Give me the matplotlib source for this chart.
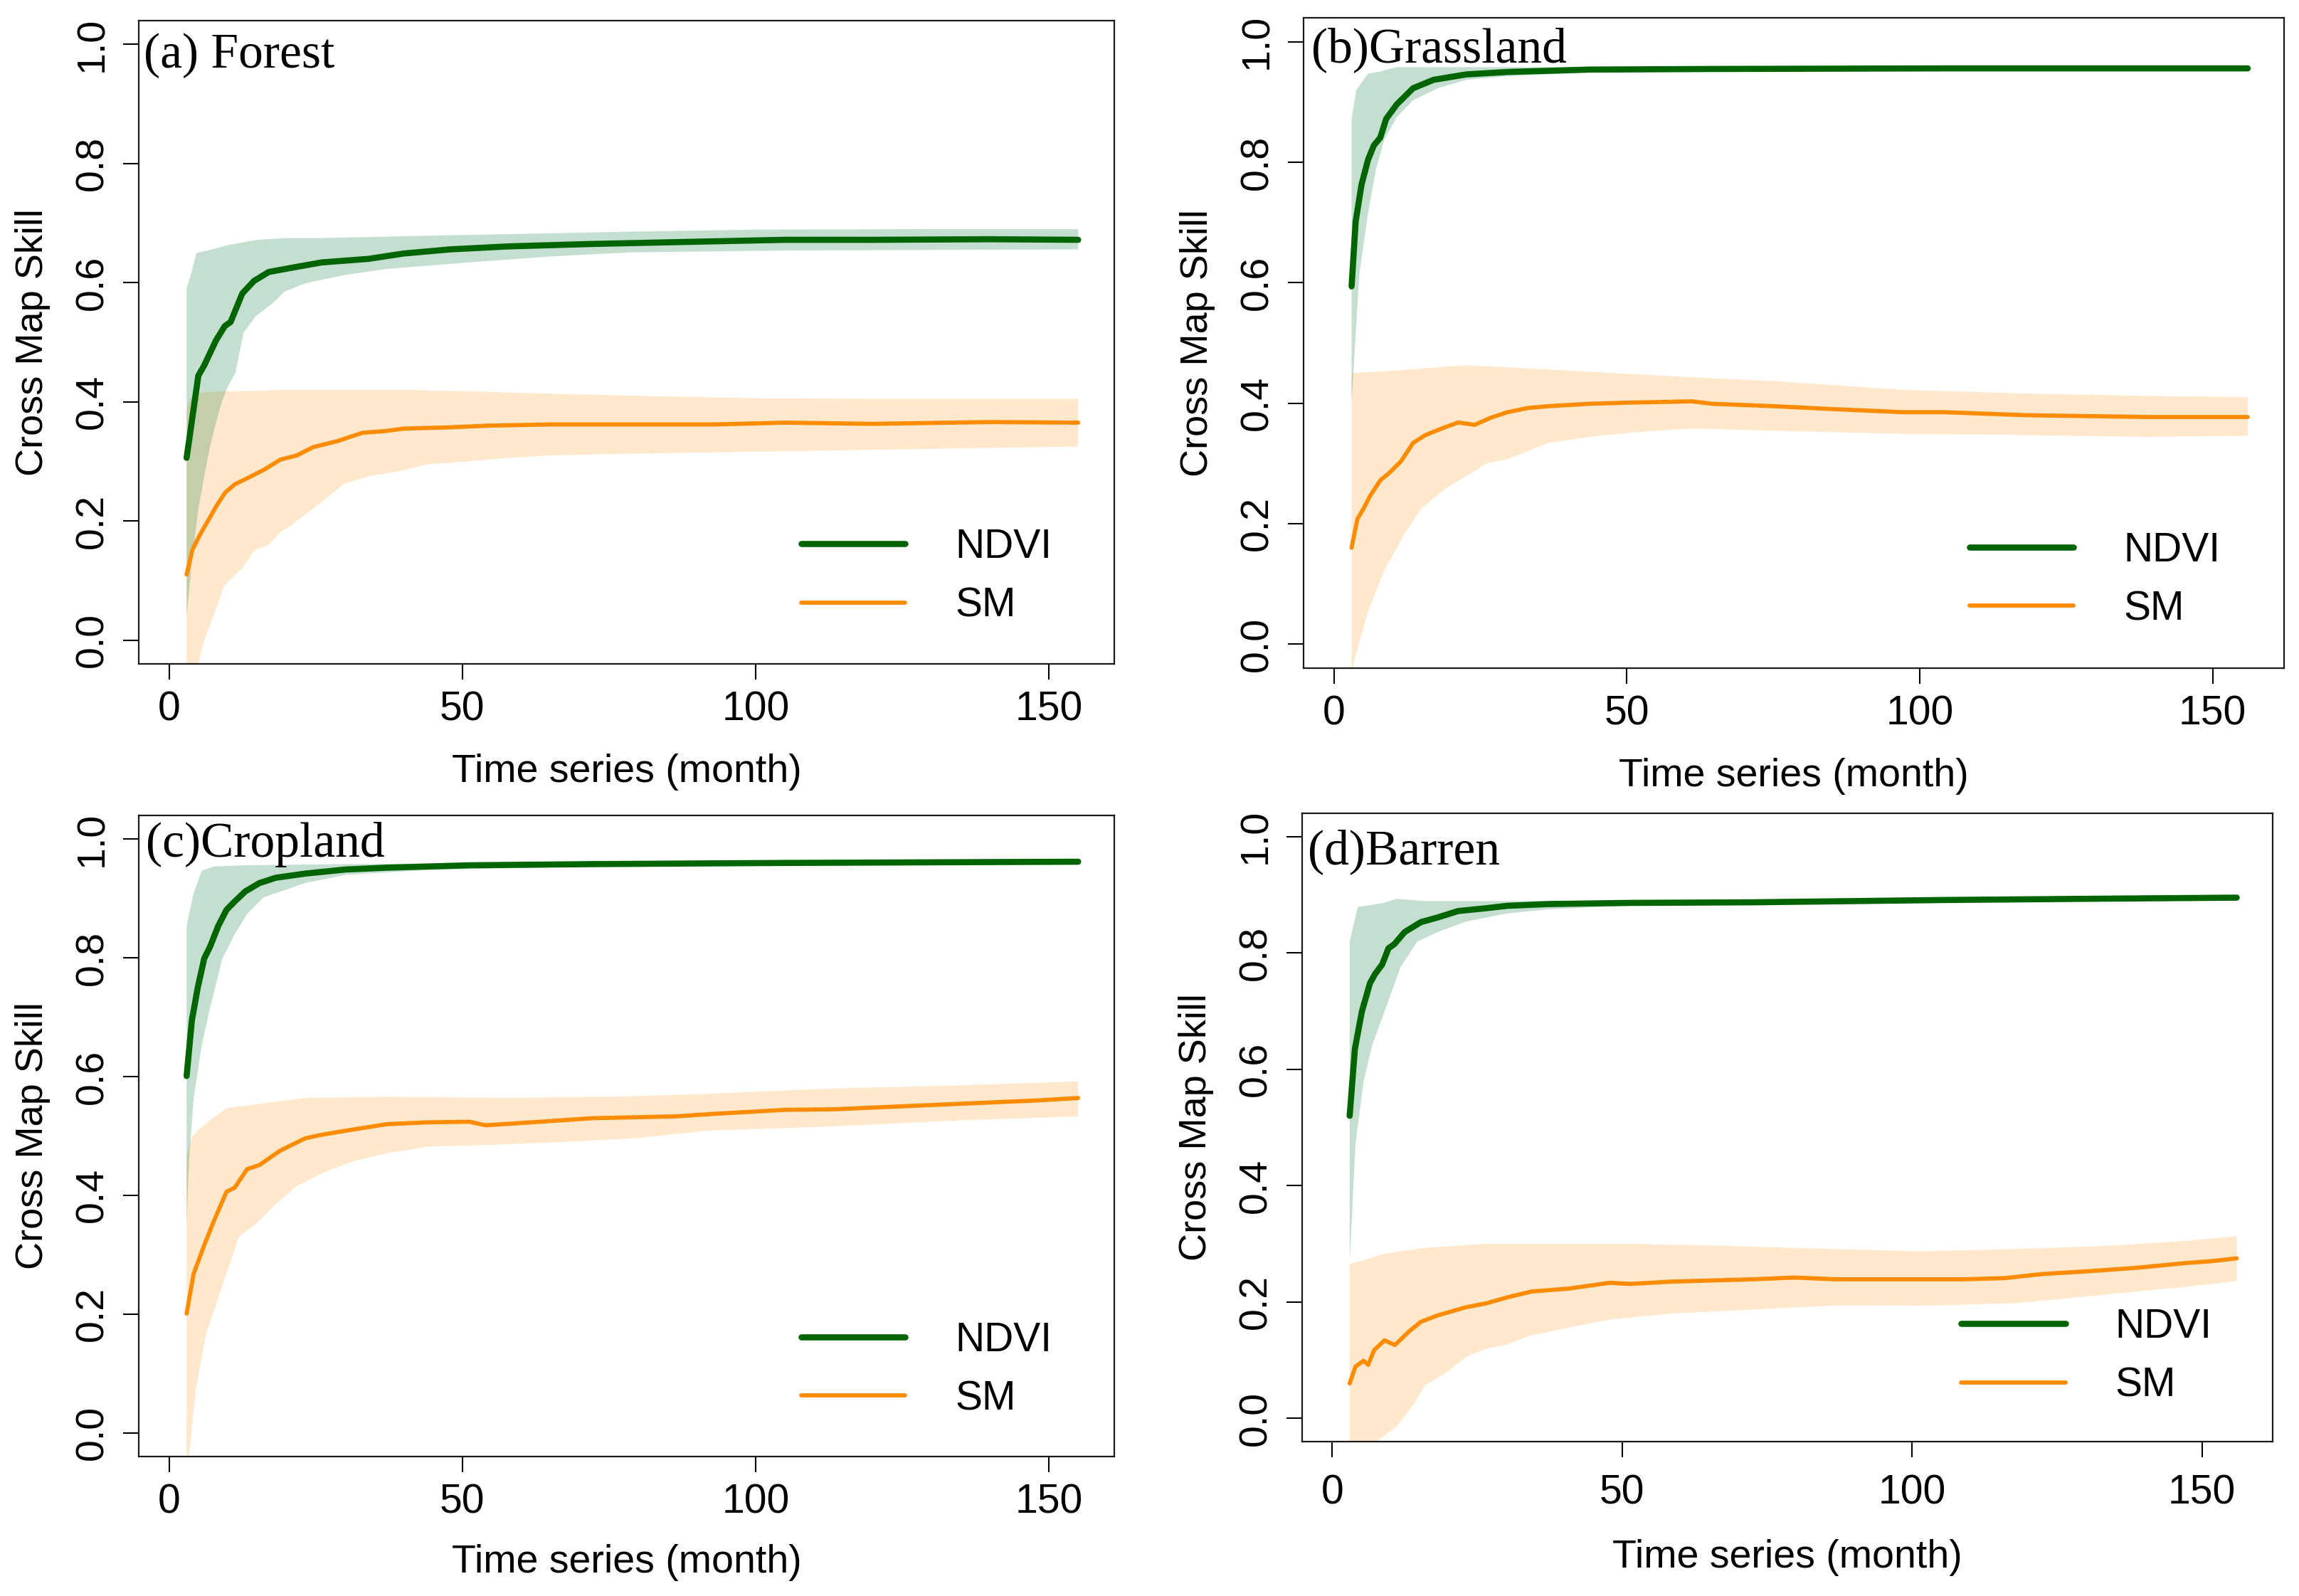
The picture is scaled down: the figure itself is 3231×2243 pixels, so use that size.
import numpy as np
import matplotlib
matplotlib.use('Agg')
import matplotlib.pyplot as plt

# ---------------- data ----------------
# (a) Forest
a_ndvi_x = [3, 5, 6, 8, 9.5, 10.5, 12.5, 14.5, 17, 22, 26, 34, 40, 48, 58, 72, 86, 105, 120, 140, 155]
a_ndvi = [0.306, 0.444, 0.461, 0.503, 0.527, 0.534, 0.582, 0.603, 0.618, 0.627, 0.634, 0.640, 0.649,
          0.656, 0.661, 0.665, 0.668, 0.672, 0.672, 0.673, 0.672]
a_ndvi_hi_x = [3, 3.7, 4.7, 7, 10, 15, 20, 26, 40, 60, 80, 100, 130, 155]
a_ndvi_hi = [0.59, 0.613, 0.65, 0.655, 0.663, 0.672, 0.675, 0.675, 0.678, 0.682, 0.686, 0.689, 0.690, 0.690]
a_ndvi_lo_x = [3, 4, 5, 6, 7, 8, 9, 10, 11.3, 12.7, 14.8, 17.6, 19.7, 23.2, 30, 37, 51, 65, 79, 105, 130, 155]
a_ndvi_lo = [0.04, 0.14, 0.22, 0.275, 0.325, 0.365, 0.40, 0.425, 0.448, 0.516, 0.544, 0.565, 0.585, 0.599,
             0.613, 0.623, 0.634, 0.644, 0.651, 0.654, 0.655, 0.656]
a_sm_x = [3, 4, 5.4, 6.8, 8.2, 9.6, 11.3, 13.4, 16.2, 19, 21.8, 24.6, 28.7, 33, 37, 40, 47.5, 54.5, 65,
          80, 93, 105, 120, 140, 155]
a_sm = [0.110, 0.152, 0.179, 0.203, 0.227, 0.248, 0.262, 0.272, 0.286, 0.303, 0.310, 0.324, 0.334, 0.348,
        0.351, 0.355, 0.357, 0.360, 0.362, 0.362, 0.362, 0.365, 0.363, 0.366, 0.365]
a_sm_hi_x = [3, 4, 5, 8, 12, 20, 30, 40, 50, 60, 80, 100, 120, 140, 155]
a_sm_hi = [0.393, 0.41, 0.415, 0.417, 0.418, 0.42, 0.42, 0.42, 0.418, 0.415, 0.41, 0.406, 0.405, 0.405, 0.405]
a_sm_lo_x = [3, 4, 5, 6, 7.7, 9.4, 12.5, 14.6, 16.8, 19, 21, 25.5, 29.8, 34, 39, 44, 51, 58, 65, 79, 105, 130, 155]
a_sm_lo = [-0.25, -0.12, -0.04, 0.0, 0.044, 0.091, 0.121, 0.151, 0.159, 0.181, 0.194, 0.228, 0.262, 0.275,
           0.283, 0.295, 0.300, 0.306, 0.310, 0.313, 0.317, 0.321, 0.325]

# (b) Grassland
b_ndvi_x = [3, 3.7, 4.7, 5.8, 6.8, 7.9, 8.9, 10.7, 13.5, 17, 22.6, 29.6, 43.6, 64.6, 104.3, 130, 156]
b_ndvi = [0.594, 0.702, 0.763, 0.804, 0.828, 0.841, 0.872, 0.896, 0.923, 0.937, 0.946, 0.950, 0.954,
          0.955, 0.956, 0.956, 0.956]
b_ndvi_hi_x = [3, 3.8, 5.8, 7.5, 10.7, 20, 50, 100, 156]
b_ndvi_hi = [0.872, 0.92, 0.947, 0.95, 0.958, 0.958, 0.958, 0.959, 0.959]
b_ndvi_lo_x = [3, 4.3, 5.8, 7.2, 8.6, 10.7, 13.5, 17.7, 22.6, 29.6, 43.6, 65, 100, 156]
b_ndvi_lo = [0.40, 0.613, 0.715, 0.79, 0.838, 0.875, 0.903, 0.923, 0.937, 0.943, 0.949, 0.952, 0.953, 0.953]
b_sm_x = [3, 4.0, 5.05, 6.1, 7.9, 9.3, 11.4, 13.5, 15.6, 18.4, 21.2, 24, 26.8, 29.6, 33.1, 36.6, 43.6,
          50.6, 61.1, 64.6, 75.1, 85.6, 97.3, 104.3, 118.3, 139.3, 156]
b_sm = [0.160, 0.208, 0.225, 0.245, 0.272, 0.283, 0.303, 0.334, 0.347, 0.358, 0.368, 0.364, 0.376, 0.385,
        0.392, 0.395, 0.399, 0.401, 0.403, 0.399, 0.395, 0.390, 0.385, 0.385, 0.380, 0.377, 0.377]
b_sm_hi_x = [3, 8.6, 22.6, 36.6, 61.1, 76.3, 97.3, 118.3, 139.3, 156]
b_sm_hi = [0.45, 0.453, 0.463, 0.456, 0.443, 0.436, 0.422, 0.416, 0.412, 0.41]
b_sm_lo_x = [3, 3.3, 4.5, 5.8, 8.6, 12.1, 14.9, 19.1, 22.6, 26.1, 29.6, 36.6, 43.6, 50.6, 61.1, 76.3,
             97.3, 118.3, 139.3, 156]
b_sm_lo = [-0.2, -0.033, 0.01, 0.054, 0.123, 0.184, 0.225, 0.259, 0.279, 0.300, 0.307, 0.334, 0.344,
           0.351, 0.358, 0.354, 0.349, 0.347, 0.344, 0.346]

# (c) Cropland
c_ndvi_x = [3, 3.9, 4.9, 6.0, 7.0, 8.4, 9.8, 11.2, 13.0, 15.4, 18.2, 23.2, 30.2, 37.2, 51.2, 72.3, 105.1, 130, 155]
c_ndvi = [0.601, 0.695, 0.750, 0.799, 0.819, 0.854, 0.881, 0.895, 0.912, 0.926, 0.935, 0.942, 0.949,
          0.952, 0.956, 0.958, 0.960, 0.961, 0.962]
c_ndvi_hi_x = [3, 4.2, 5.6, 7.7, 12.6, 30, 60, 105, 155]
c_ndvi_hi = [0.854, 0.909, 0.947, 0.954, 0.956, 0.958, 0.960, 0.962, 0.964]
c_ndvi_lo_x = [3, 3.4, 4.2, 5.6, 7.0, 9.1, 11.2, 13.3, 16.1, 23.2, 30.2, 44, 72, 105, 155]
c_ndvi_lo = [0.35, 0.454, 0.564, 0.654, 0.716, 0.799, 0.84, 0.874, 0.902, 0.926, 0.940, 0.948, 0.954,
             0.957, 0.958]
c_sm_x = [3, 4.2, 6.0, 7.7, 9.8, 11.2, 13.3, 15.4, 18.9, 23.2, 26, 30.2, 37.2, 44.2, 51.2, 54, 61.8,
          72.3, 86.3, 92.4, 105, 113.4, 134.3, 148.3, 155]
c_sm = [0.201, 0.268, 0.316, 0.358, 0.406, 0.413, 0.444, 0.451, 0.475, 0.496, 0.502, 0.509, 0.520, 0.523,
        0.524, 0.518, 0.523, 0.530, 0.533, 0.537, 0.544, 0.545, 0.554, 0.560, 0.564]
c_sm_hi_x = [3, 4, 5.6, 9.8, 23.2, 37.2, 58, 79, 92, 113, 134, 155]
c_sm_hi = [0.47, 0.50, 0.516, 0.547, 0.564, 0.566, 0.564, 0.567, 0.571, 0.58, 0.585, 0.592]
c_sm_lo_x = [3, 3.4, 4.6, 6.3, 9.1, 11.9, 14.7, 18.2, 21.8, 26.7, 31.6, 37.2, 44.2, 54.7, 65.3, 79.3,
             92, 113, 134, 155]
c_sm_lo = [-0.1, -0.04, 0.075, 0.165, 0.248, 0.330, 0.351, 0.385, 0.416, 0.44, 0.458, 0.471, 0.482,
           0.485, 0.489, 0.496, 0.509, 0.516, 0.526, 0.533]

# (d) Barren
d_ndvi_x = [3, 3.9, 5.1, 6.5, 7.4, 8.6, 9.7, 10.7, 12.5, 15.3, 18.2, 21.7, 26.7, 30.2, 37.3, 51.4, 72.6,
            105.7, 130, 156]
d_ndvi = [0.520, 0.635, 0.699, 0.748, 0.764, 0.780, 0.808, 0.815, 0.836, 0.853, 0.861, 0.872, 0.877,
          0.881, 0.884, 0.886, 0.887, 0.891, 0.893, 0.895]
d_ndvi_hi_x = [3, 4.4, 9.0, 11.1, 16, 30, 51, 105, 156]
d_ndvi_hi = [0.819, 0.879, 0.886, 0.893, 0.889, 0.889, 0.890, 0.894, 0.898]
d_ndvi_lo_x = [3, 4.0, 5.4, 6.9, 9.0, 10.4, 11.8, 14.6, 18.2, 23.1, 30.2, 37.3, 51, 105, 156]
d_ndvi_lo = [0.268, 0.473, 0.579, 0.642, 0.699, 0.738, 0.776, 0.819, 0.836, 0.854, 0.868, 0.875, 0.881,
             0.887, 0.891]
d_sm_x = [3, 4.0, 5.4, 6.2, 7.2, 9.0, 10.8, 13.2, 15.3, 18.2, 23.1, 26.7, 30.2, 34.4, 40.8, 47.9, 51.4,
          58.5, 65.6, 72.6, 79.7, 86.8, 95.3, 101.6, 109, 116, 122.4, 130.7, 139, 147.3, 151.5, 156]
d_sm = [0.060, 0.089, 0.099, 0.092, 0.117, 0.134, 0.126, 0.149, 0.166, 0.177, 0.191, 0.198, 0.208, 0.218,
        0.223, 0.233, 0.231, 0.235, 0.237, 0.239, 0.242, 0.239, 0.239, 0.239, 0.239, 0.241, 0.248, 0.253,
        0.259, 0.267, 0.270, 0.275]
d_sm_hi_x = [3, 5.4, 9.0, 16, 26.7, 37.3, 51.4, 65.6, 79.7, 101.6, 118, 134.8, 147.3, 156]
d_sm_hi = [0.265, 0.272, 0.283, 0.293, 0.30, 0.30, 0.30, 0.297, 0.293, 0.287, 0.291, 0.297, 0.305, 0.313]
d_sm_lo_x = [3, 7.6, 11.1, 13.9, 16, 19.6, 23.1, 26.7, 30.2, 33.7, 40.8, 47.9, 58.5, 72.6, 86.8, 101.6,
             118, 134.8, 147.3, 156]
d_sm_lo = [-0.2, -0.04, -0.014, 0.022, 0.057, 0.078, 0.106, 0.12, 0.127, 0.141, 0.156, 0.17, 0.18,
           0.187, 0.194, 0.1935, 0.198, 0.214, 0.226, 0.236]

titles = ['(a) Forest', '(b)Grassland', '(c)Cropland', '(d)Barren']
series_labels = ['NDVI', 'SM']
x_ticks = [0, 50, 100, 150]
y_ticks = [0.0, 0.2, 0.4, 0.6, 0.8, 1.0]
y_tick_labels = ['0.0', '0.2', '0.4', '0.6', '0.8', '1.0']
x_label = 'Time series (month)'
y_label = 'Cross Map Skill'

# ---------------- style / layout ----------------
W, H, DPI = 3231, 2243, 100
GREEN = '#006400'
ORANGE = '#FF8C00'
GREEN_BAND = (0.18, 0.55, 0.34, 0.28)
ORANGE_BAND = (1.0, 0.549, 0.0, 0.2)
SANS = ['Liberation Sans', 'DejaVu Sans']
SERIF = ['Liberation Serif', 'DejaVu Serif']

# axes boxes in pixels: left, right, top, bottom ; x-limits ; title offset ; paddings
layout = [
    dict(box=(195, 1566, 29, 933), xlim=(-5.16, 161.16), tx=0.005, ty=1 - 66 / 904, xpad=11, xlp=25),
    dict(box=(1832, 3210, 25, 939), xlim=(-5.2, 162.2), tx=0.008, ty=1 - 62 / 914, xpad=11, xlp=25),
    dict(box=(195, 1566, 1146, 2047), xlim=(-5.16, 161.16), tx=0.007, ty=1 - 58 / 901, xpad=11, xlp=23),
    dict(box=(1830, 3194, 1143, 2026), xlim=(-5.2, 162.2), tx=0.006, ty=1 - 71 / 883, xpad=17, xlp=27),
]

panels = [
    (a_ndvi_x, a_ndvi, a_ndvi_hi_x, a_ndvi_hi, a_ndvi_lo_x, a_ndvi_lo,
     a_sm_x, a_sm, a_sm_hi_x, a_sm_hi, a_sm_lo_x, a_sm_lo),
    (b_ndvi_x, b_ndvi, b_ndvi_hi_x, b_ndvi_hi, b_ndvi_lo_x, b_ndvi_lo,
     b_sm_x, b_sm, b_sm_hi_x, b_sm_hi, b_sm_lo_x, b_sm_lo),
    (c_ndvi_x, c_ndvi, c_ndvi_hi_x, c_ndvi_hi, c_ndvi_lo_x, c_ndvi_lo,
     c_sm_x, c_sm, c_sm_hi_x, c_sm_hi, c_sm_lo_x, c_sm_lo),
    (d_ndvi_x, d_ndvi, d_ndvi_hi_x, d_ndvi_hi, d_ndvi_lo_x, d_ndvi_lo,
     d_sm_x, d_sm, d_sm_hi_x, d_sm_hi, d_sm_lo_x, d_sm_lo),
]


def band(ax, xh, yh, xl, yl, color):
    xs = np.concatenate([np.asarray(xh, float), np.asarray(xl, float)[::-1]])
    ys = np.concatenate([np.asarray(yh, float), np.asarray(yl, float)[::-1]])
    ax.fill(xs, ys, color=color, lw=0, zorder=1)


fig = plt.figure(figsize=(W / DPI, H / DPI), dpi=DPI)
fig.patch.set_facecolor('white')

for i, (lay, data) in enumerate(zip(layout, panels)):
    L, R, T, B = lay['box']
    ax = fig.add_axes([L / W, 1 - B / H, (R - L) / W, (B - T) / H])
    (nx, ny, nhx, nhy, nlx, nly, sx, sy, shx, shy, slx, sly) = data

    band(ax, shx, shy, slx, sly, ORANGE_BAND)
    band(ax, nhx, nhy, nlx, nly, GREEN_BAND)
    l_sm, = ax.plot(sx, sy, color=ORANGE, lw=4.2, solid_capstyle='round',
                    solid_joinstyle='round', zorder=3, label=series_labels[1])
    l_nd, = ax.plot(nx, ny, color=GREEN, lw=6.2, solid_capstyle='round',
                    solid_joinstyle='round', zorder=4, label=series_labels[0])

    ax.set_xlim(*lay['xlim'])
    ax.set_ylim(-0.04, 1.04)
    ax.set_xticks(x_ticks)
    ax.set_xticklabels([str(t) for t in x_ticks], family=SANS, fontsize=41)
    ax.set_yticks(y_ticks)
    ax.set_yticklabels(y_tick_labels, family=SANS, fontsize=40,
                       rotation=90, va='center')
    ax.tick_params(axis='both', direction='out', length=15.8, width=1.5,
                   color='black', top=False, right=False)
    ax.tick_params(axis='x', pad=lay['xpad'])
    ax.tick_params(axis='y', pad=12)
    for sp in ax.spines.values():
        sp.set_linewidth(1.6)
        sp.set_color('#1a1a1a')

    ax.set_xlabel(x_label, family=SANS, fontsize=40, labelpad=lay['xlp'])
    ax.set_ylabel(y_label, family=SANS, fontsize=39, labelpad=24)

    ax.text(lay['tx'], lay['ty'], titles[i], transform=ax.transAxes,
            family=SERIF, fontsize=50, ha='left', va='baseline', zorder=6)

    leg = ax.legend(handles=[l_nd, l_sm], labels=series_labels, loc='center left',
                    bbox_to_anchor=(0.679, 0.1355), frameon=False,
                    prop=dict(family=SANS, size=41), handlelength=2.57,
                    handletextpad=1.23, labelspacing=0.5, borderpad=0,
                    borderaxespad=0)
    for hl in leg.get_lines():
        hl.set_solid_capstyle('round')

fig.savefig('out.png', dpi=DPI, facecolor='white')
